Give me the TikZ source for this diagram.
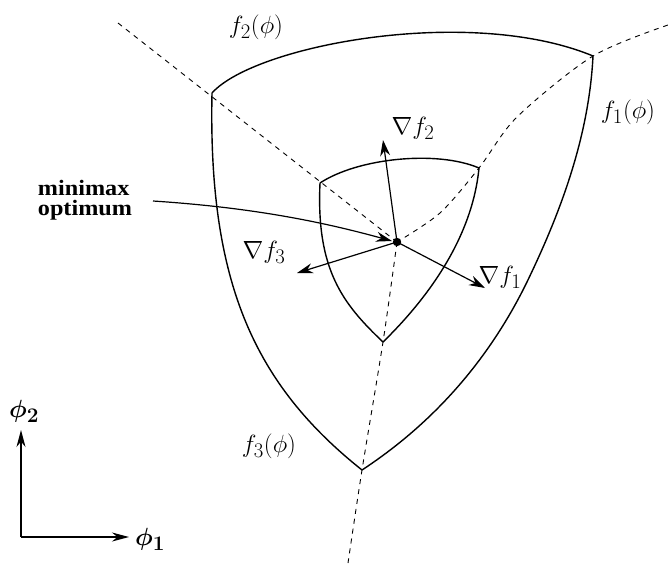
\documentclass[tikz,border=0pt]{standalone}
\usepackage{fontspec}
\usepackage{bm}
\setmainfont{Liberation Serif}
\newfontfamily\labfont[FakeStretch=1.1]{Liberation Serif}
\usetikzlibrary{arrows.meta}
\begin{document}
\begin{tikzpicture}[x=1pt,y=-1pt,
  curve/.style={line width=1.4pt},
  guide/.style={line width=0.9pt, dash pattern=on 5pt off 5pt},
  grad/.style={line width=1.2pt, -{Stealth[length=16pt,width=10pt]}},
  axis/.style={line width=1.2pt, -{Stealth[length=17pt,width=9pt]}},
  lab/.style={font=\fontsize{24.88}{28}\selectfont, inner sep=0pt},
  txt/.style={font=\labfont\bfseries\fontsize{22}{20.5}\selectfont, inner sep=0pt, align=left}]
\useasboundingbox (0,0) rectangle (668,565);
% key points
\coordinate (O) at (397,242);
\coordinate (A) at (212,93);
\coordinate (B) at (593,56);
\coordinate (C) at (362,470);
\coordinate (M) at (526,284);
\coordinate (IA) at (320,183);
\coordinate (IB) at (479,168);
\coordinate (IC) at (383,342);
\coordinate (d1) at (118,23);
% dashed guides
\draw[guide] (d1) -- (O);
\draw[guide] plot[smooth] coordinates {(668,25) (593,56) (517,117) (479,168) (440,213) (397,242)};
\draw[guide] plot[smooth] coordinates {(397,242) (383,342) (362,470) (348,563)};
% outer contour
\draw[curve] (A) .. controls (255,45) and (470,5) .. (B);
\draw[curve] (B) .. controls (589,136) and (561,212) .. (M)
                 .. controls (486,365) and (429,426) .. (C);
\draw[curve] (A) .. controls (208,282) and (254,384) .. (C);
% inner contour
\draw[curve] (IA) .. controls (358,158) and (437,150) .. (IB);
\draw[curve] (IA) .. controls (316,270) and (343,304) .. (IC);
\draw[curve] (IB) .. controls (472,240) and (425,301) .. (IC);
% gradients
\coordinate (g1) at (485,288);
\coordinate (g2) at (383,140);
\coordinate (g3) at (297,273);
\draw[grad] (O) -- (g1);
\draw[grad] (O) -- (g2);
\draw[grad] (O) -- (g3);
\fill (O) circle (4.2);
% minimax label and pointer
\node[txt] (mm) at (85,200) {minimax\\optimum};
\coordinate (ms) at (153,201);
\coordinate (mt) at (392,241);
\draw[grad] (ms) .. controls (260,208) and (330,224) .. (mt);
% labels
\node[lab] (lf2) at (256,27) {$f_2(\phi)$};
\node[lab] (lf1) at (628,112) {$f_1(\phi)$};
\node[lab] (lf3) at (269,446) {$f_3(\phi)$};
\node[lab] (lg2) at (413,128) {$\nabla f_2$};
\node[lab] (lg1) at (500,277) {$\nabla f_1$};
\node[lab] (lg3) at (264,252) {$\nabla f_3$};
% axes
\coordinate (ax0) at (21,537);
\coordinate (axy) at (21,430);
\coordinate (axx) at (129,537);
\draw[axis] (ax0) -- (axy);
\draw[axis] (ax0) -- (axx);
\node[lab] (p2) at (24,411) {$\bm{\phi}_{\bm{2}}$};
\node[lab] (p1) at (150,539) {$\bm{\phi}_{\bm{1}}$};
\end{tikzpicture}
\end{document}
